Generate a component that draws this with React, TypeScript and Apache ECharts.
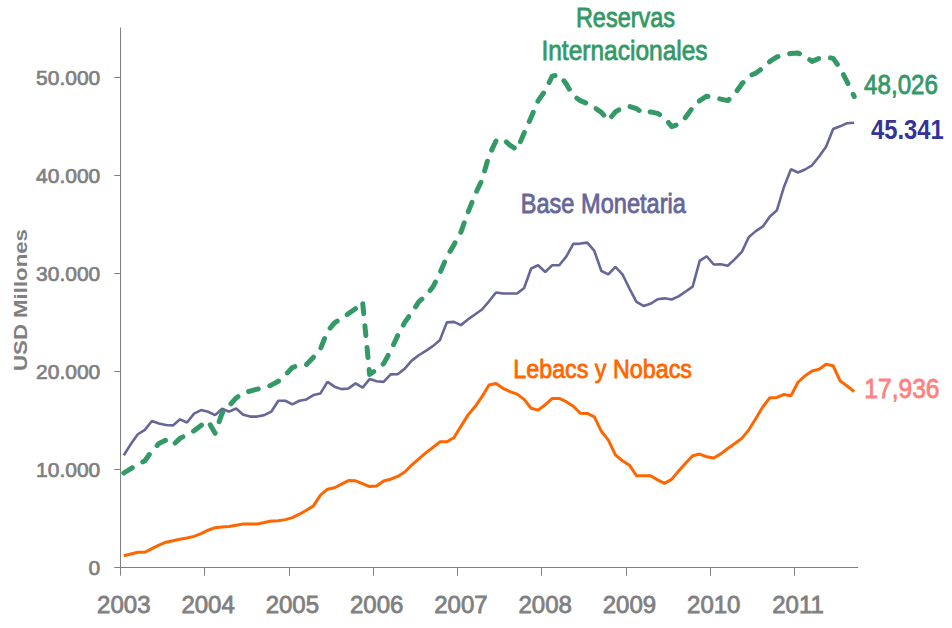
import { useEffect, useRef } from "react";
import * as echarts from "echarts";

// ---- Data (monthly, Jan 2003 – Sep 2011), USD millones ----
const yearLabels = ["2003", "2004", "2005", "2006", "2007", "2008", "2009", "2010", "2011"];
const monthsPerYear = 12;
const yTickValues = [0, 10000, 20000, 30000, 40000, 50000];
const yMax = 55000;

const reservas = [
  9650, 10100, 10500, 10900, 11900, 12650, 13000, 12500, 13180, 13550, 13950, 14500,
  14940, 13700, 15750, 16500, 17300, 17800, 18000, 18200, 18330, 18600, 19000, 19620,
  20400, 20640, 20700, 21450, 22300, 24100, 24950, 25400, 25900, 26400, 27100, 19700,
  20200, 20800, 22100, 23650, 25000, 26000, 27100, 27700, 28600, 30000, 31700, 32900,
  34200, 36200, 38000, 39500, 42000, 43500, 43700, 43040, 42600, 44300, 45900, 47600,
  48600, 50100, 50250, 49300, 48100, 47600, 47300, 46900, 46400, 45590, 46450, 46900,
  47000, 46780, 46300, 46450, 46300, 45900, 44950, 45200, 45900, 46900, 47600, 48050,
  47920, 47750, 47600, 48300, 49300, 50100, 50400, 50950, 51600, 52050, 52250, 52400,
  52450, 52100, 51600, 51900, 52040, 51900, 50900, 49500, 48026,
];

const baseMonetaria = [
  11450, 12600, 13600, 14050, 14950, 14700, 14550, 14500, 15120, 14800, 15700, 16060,
  15890, 15550, 16200, 15900, 16220, 15580, 15400, 15400, 15550, 15900, 17010, 17010,
  16650, 17010, 17150, 17590, 17760, 18940, 18450, 18200, 18270, 18780, 18350, 19220,
  19000, 18940, 19700, 19720, 20280, 21100, 21650, 22100, 22580, 23180, 25000, 25050,
  24720, 25300, 25800, 26310, 27150, 28040, 27950, 27950, 27950, 28500, 30490, 30820,
  30140, 30820, 30820, 31700, 33000, 33030, 33130, 32280, 30240, 29900, 30650, 29900,
  28450, 27090, 26680, 26900, 27350, 27450, 27330, 27650, 28150, 28650, 31260, 31740,
  30900, 30930, 30770, 31450, 32180, 33700, 34300, 34780, 35800, 36430, 38800, 40600,
  40270, 40580, 41010, 41900, 42900, 44700, 44980, 45300, 45341,
];

const lebacsNobacs = [
  1220, 1400, 1570, 1570, 1950, 2300, 2600, 2750, 2890, 3030, 3190, 3470,
  3820, 4080, 4150, 4200, 4320, 4450, 4450, 4460, 4600, 4750, 4790, 4900,
  5100, 5450, 5850, 6300, 7400, 8000, 8150, 8520, 8880, 8860, 8560, 8270,
  8320, 8840, 9020, 9300, 9750, 10460, 11100, 11700, 12250, 12830, 12830, 13240,
  14400, 15550, 16400, 17430, 18620, 18780, 18280, 17950, 17690, 17150, 16250, 16060,
  16600, 17250, 17250, 16920, 16450, 15750, 15720, 15380, 13900, 13000, 11500, 10900,
  10450, 9370, 9370, 9370, 8950, 8590, 9000, 9850, 10650, 11410, 11580, 11300,
  11180, 11600, 12150, 12650, 13180, 14050, 15200, 16400, 17320, 17350, 17660, 17520,
  18900, 19550, 20050, 20220, 20740, 20580, 19040, 18520, 17936,
];

const seriesNames = ["Base Monetaria", "Lebacs y Nobacs", "Reservas Internacionales"];
const endValueLabels = ["45.341", "17,936", "48,026"];
const axisTitle = "USD Millones";

// ---- helpers ----
const FONT = "'Liberation Sans', Arial, sans-serif";
const toPoints = (arr: number[]) => arr.map((v, i) => [i + 0.5, v]);
const fmtThousands = (v: number) => String(v).replace(/\B(?=(\d{3})+(?!\d))/g, ".");
const monthCount = reservas.length;
const yearTickValues = yearLabels.map((_, k) => k * monthsPerYear);
const yearLabelValues = yearLabels.map((_, k) => k * monthsPerYear + 0.5);

const GREEN = "#339966";
const BLUE = "#666699";
const ORANGE = "#FF6600";
const NAVY = "#333399";
const PINK = "#FF8080";
const GRAY = "#808080";
const STRETCH = 1.14;

const txt = (
  text: string,
  x: number,
  y: number,
  fill: string,
  fontSize: number,
  align: string,
  fontWeight: string = "normal"
) => ({
  type: "text",
  x,
  y,
  scaleY: STRETCH,
  style: {
    text,
    fill,
    fontSize,
    fontWeight,
    fontFamily: FONT,
    align,
    verticalAlign: "middle",
    stroke: fontWeight === "bold" ? undefined : fill,
    lineWidth: fontWeight === "bold" ? 0 : 0.7,
  },
});

export default function App() {
  const ref = useRef<HTMLDivElement>(null);

  useEffect(() => {
    if (!ref.current) return;
    const chart = echarts.init(ref.current, undefined, { renderer: "svg" });

    chart.setOption({
      animation: false,
      backgroundColor: "#ffffff",
      grid: { left: 120.3, right: 94.3, top: 28, bottom: 60.3, containLabel: false },
      xAxis: {
        type: "value",
        min: 0,
        max: monthCount,
        axisLine: { show: true, lineStyle: { color: GRAY, width: 1 } },
        axisTick: {
          show: true,
          length: 8,
          lineStyle: { color: GRAY, width: 1 },
          customValues: yearTickValues,
        },
        axisLabel: {
          show: true,
          customValues: yearLabelValues,
          formatter: (v: number) => yearLabels[Math.floor(v / monthsPerYear)] ?? "",
          color: GRAY,
          fontSize: 24,
          fontFamily: FONT,
          margin: 25,
          textBorderColor: GRAY,
          textBorderWidth: 0.8,
        },
        splitLine: { show: false },
      },
      yAxis: {
        type: "value",
        min: 0,
        max: yMax,
        axisLine: { show: true, lineStyle: { color: GRAY, width: 1 } },
        axisTick: {
          show: true,
          length: 6,
          lineStyle: { color: GRAY, width: 1 },
          customValues: yTickValues,
        },
        axisLabel: {
          show: true,
          customValues: yTickValues,
          formatter: (v: number) => fmtThousands(v),
          color: GRAY,
          fontSize: 21,
          fontFamily: FONT,
          margin: 20,
          textBorderColor: GRAY,
          textBorderWidth: 0.7,
        },
        splitLine: { show: false },
      },
      series: [
        {
          name: seriesNames[0],
          type: "line",
          data: toPoints(baseMonetaria),
          showSymbol: false,
          symbol: "none",
          lineStyle: { color: BLUE, width: 2.6 },
          z: 2,
        },
        {
          name: seriesNames[1],
          type: "line",
          data: toPoints(lebacsNobacs),
          showSymbol: false,
          symbol: "none",
          lineStyle: { color: ORANGE, width: 3 },
          z: 3,
        },
        {
          name: seriesNames[2],
          type: "line",
          data: toPoints(reservas),
          showSymbol: false,
          symbol: "none",
          lineStyle: { color: GREEN, width: 5, type: [10, 12], cap: "round", join: "round" },
          z: 4,
        },
      ],
      graphic: [
        {
          type: "text",
          x: 20,
          y: 300,
          rotation: Math.PI / 2,
          scaleX: 1.17,
          style: {
            text: axisTitle,
            fill: GRAY,
            fontSize: 19,
            fontWeight: "bold",
            fontFamily: FONT,
            align: "center",
            verticalAlign: "middle",
          },
        },
        txt("Reservas", 625.5, 17, GREEN, 23.5, "center"),
        txt("Internacionales", 624.5, 50.5, GREEN, 24.5, "center"),
        txt(seriesNames[0], 520.7, 203, BLUE, 23.6, "left"),
        txt(seriesNames[1], 513.3, 368.3, ORANGE, 23.3, "left"),
        txt(endValueLabels[2], 864, 84, GREEN, 24.2, "left"),
        txt(endValueLabels[0], 871, 129, NAVY, 23.8, "left", "bold"),
        txt(endValueLabels[1], 864.3, 388, PINK, 24.6, "left"),
      ],
    });

    return () => chart.dispose();
  }, []);

  return (
    <div
      ref={ref}
      style={{ position: "fixed", left: 0, top: 0, width: 952, height: 628, background: "#fff" }}
    />
  );
}
